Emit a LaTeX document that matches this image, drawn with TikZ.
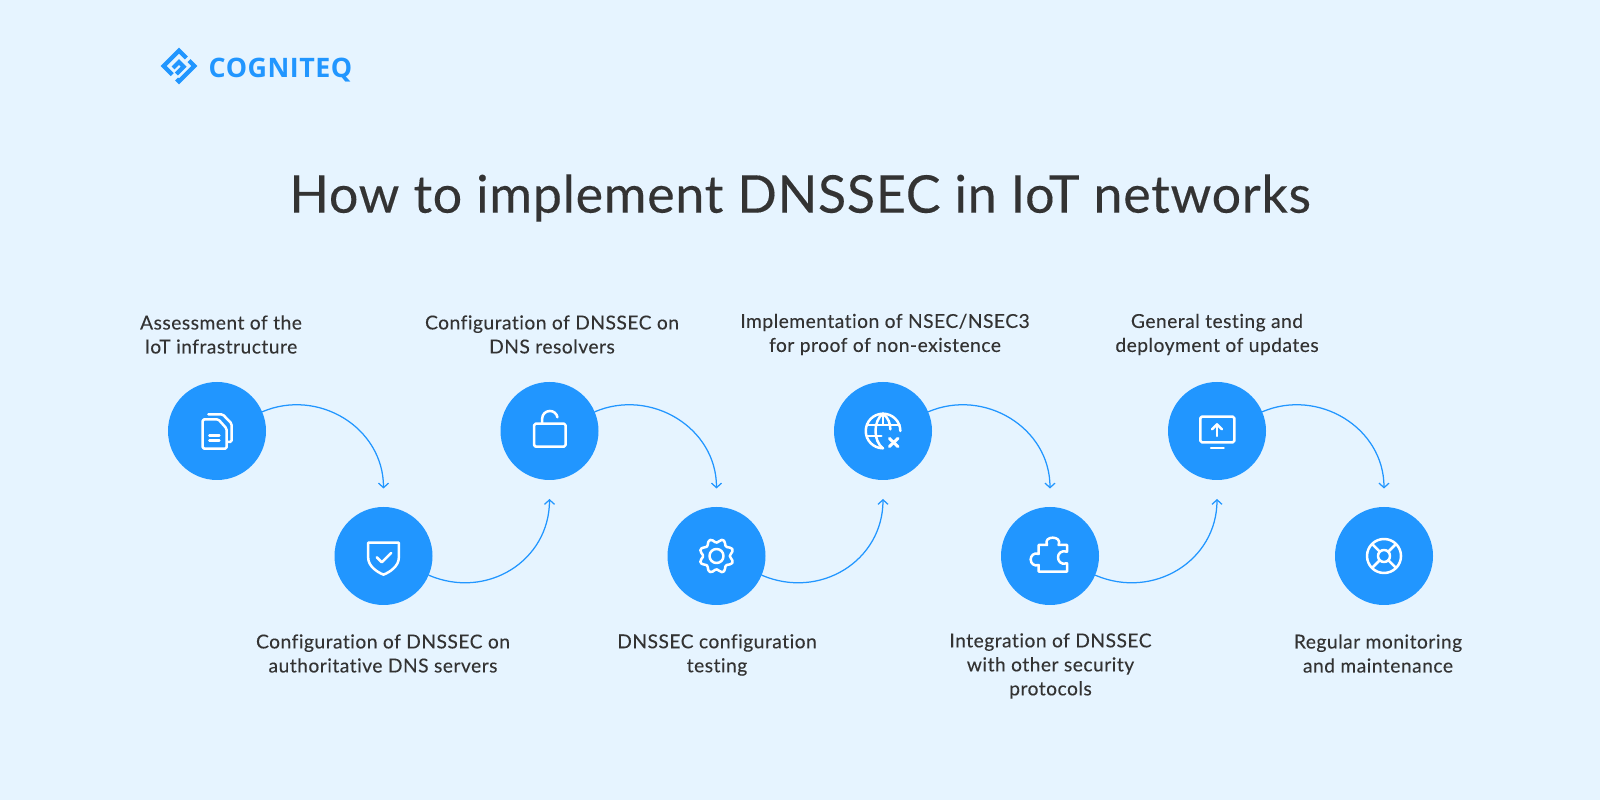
\documentclass[tikz,border=0pt]{standalone}
\usepackage{fontspec}
\setmainfont{Lato}
\newfontfamily\titlefont[LetterSpace=1.3,FakeBold=0.25]{Lato}
\newfontfamily\labelfont[LetterSpace=2.6,FakeBold=0.15,Ligatures=NoCommon]{Lato}
\newfontfamily\logofont[LetterSpace=2]{Open Sans}
\usetikzlibrary{arrows.meta,calc}
\definecolor{bgblue}{RGB}{230,244,255}
\definecolor{brand}{RGB}{33,150,255}
\definecolor{ink}{RGB}{51,51,51}
\tikzset{
  stepdot/.style={circle,fill=brand,draw=none,minimum size=98pt,inner sep=0pt,outer sep=0pt},
  flow/.style={draw=brand,line width=1.25pt,-{Straight Barb[length=4.5pt,width=10pt,line width=1.25pt]}},
  steptext/.style={align=center,inner sep=0pt,text=ink,font=\labelfont\fontsize{19.2}{24}\selectfont},
  iconline/.style={draw=white,line width=2.5pt,line cap=round,line join=round},
  iconbox/.style={x=0.3333pt,y=-0.3333pt},
  logostroke/.style={draw=brand,line width=4.2pt,line cap=butt,line join=miter}
}
\begin{document}
\begin{tikzpicture}[x=1pt,y=1pt]
\useasboundingbox (0,0) rectangle (1600,800);
\fill[bgblue] (0,0) rectangle (1600,800);

% logo
\coordinate (logo) at (179,734);
\begin{scope}[shift={(logo)},iconbox]
  \draw[logostroke] (22,-24) -- (0,-46) -- (-46,0) -- (-20,26);
  \draw[logostroke] (-18,6) -- (0,-12) -- (14,2) -- (-8,24);
  \draw[logostroke] (30,-16) -- (46,0) -- (0,46) -- (-7,39);
\end{scope}
\node[anchor=west,inner sep=0pt,text=brand,font=\logofont\bfseries\fontsize{26.8}{26}\selectfont] (brandname) at (208.5,729.5) {COGNITEQ};

% title
\node[inner sep=0pt,text=ink,font=\titlefont\fontsize{52}{60}\selectfont] (title) at (800,602) {How to implement DNSSEC in IoT networks};

% circles
\node[stepdot] (c1) at (217,369) {};
\node[stepdot] (c2) at (383.5,244) {};
\node[stepdot] (c3) at (549.5,369) {};
\node[stepdot] (c4) at (716.5,244) {};
\node[stepdot] (c5) at (883,369) {};
\node[stepdot] (c6) at (1050,244) {};
\node[stepdot] (c7) at (1217,369) {};
\node[stepdot] (c8) at (1384,244) {};

% labels
\node[steptext] (t1) at (221,465.5) {Assessment of the\\IoT infrastructure};
\node[steptext] (t2) at (383,146.5) {Configuration of DNSSEC on\\authoritative DNS servers};
\node[steptext] (t3) at (552,465.5) {Configuration of DNSSEC on\\DNS resolvers};
\node[steptext] (t4) at (717,145) {DNSSEC configuration\\testing};
\node[steptext] (t5) at (885,465.5) {Implementation of NSEC/NSEC3\\for proof of non-existence};
\node[steptext] (t6) at (1050.5,134) {Integration of DNSSEC\\with other security\\protocols};
\node[steptext] (t7) at (1217,465.5) {General testing and\\deployment of updates};
\node[steptext] (t8) at (1378,146.5) {Regular monitoring\\and maintenance};

% connectors
\foreach \a/\b in {c1/c2,c3/c4,c5/c6,c7/c8}
  \draw[flow] (\a.23) .. controls +(56,24) and ($(\b.north)+(0,79.5)$) .. ($(\b.north)+(0,18.5)$);
\foreach \a/\b in {c2/c3,c4/c5,c6/c7}
  \draw[flow] (\a.-23) .. controls +(58,-25) and ($(\b.south)+(0,-81)$) .. ($(\b.south)+(0,-19)$);

% icon 1: documents
\begin{scope}[shift={(c1.center)},iconbox]
  \draw[iconline,rounded corners=1.5pt] (-43,-35) -- (4,-35) -- (29,-7) -- (29,53) -- (-43,53) -- cycle;
  \draw[iconline,rounded corners=1.5pt] (-26,-50) -- (17,-50) -- (44,-22) -- (44,33) -- (31,33);
  \draw[iconline] (-23,13) -- (7,13);
  \draw[iconline] (-23,29) -- (7,29);
\end{scope}
% icon 2: shield
\begin{scope}[shift={(c2.center)},iconbox]
  \draw[iconline] (-46,-40) -- (46,-40) -- (46,5) .. controls (46,30) and (20,48) .. (0,56) .. controls (-20,48) and (-46,30) .. (-46,5) -- cycle;
  \draw[iconline] (-20,4) -- (-5,19) -- (23,-9);
\end{scope}
% icon 3: open lock
\begin{scope}[shift={(c3.center)},iconbox]
  \draw[iconline,rounded corners=1.5pt] (-46,-22) rectangle (48,47);
  \draw[iconline] (-22,-22) -- (-22,-37) arc[start angle=180,end angle=10,radius=7.7pt];
\end{scope}
% icon 4: gear
\begin{scope}[shift={(c4.center)},iconbox]
  \draw[iconline] plot[smooth cycle,domain=0:352,samples=45] ({(46-6*cos(8*\x))*cos(\x)},{(46-6*cos(8*\x))*sin(\x)});
  \draw[iconline] (0,0) circle[radius=7pt];
\end{scope}
% icon 5: globe
\begin{scope}[shift={(c5.center)},iconbox]
  \draw[iconline] (52,0) arc[start angle=0,end angle=270,radius=17.3pt];
  \draw[iconline] (0,-52) .. controls (-30,-30) and (-30,30) .. (0,52);
  \draw[iconline] (0,-52) .. controls (16,-40) and (22,-22) .. (22,-5);
  \draw[iconline] (0,-52) -- (0,-18);
  \draw[iconline] (-48,-18) -- (50,-18);
  \draw[iconline] (-48,15) -- (-5,15);
  \draw[iconline,line width=3pt] (19,22) -- (45,47);
  \draw[iconline,line width=3pt] (45,22) -- (19,47);
\end{scope}
% icon 6: puzzle
\begin{scope}[shift={(c6.center)},iconbox]
  \draw[iconline] (-34,47) -- (51,47) -- (51,22) .. controls (32,28) and (24,14) .. (24,4) .. controls (24,-8) and (34,-18) .. (51,-13) -- (51,-33) -- (26,-33) .. controls (32,-48) and (20,-55) .. (8,-55) .. controls (-4,-55) and (-15,-48) .. (-9,-33) -- (-34,-33) -- (-34,-6) .. controls (-48,-12) and (-58,0) .. (-58,10) .. controls (-58,22) and (-48,32) .. (-34,27) -- cycle;
\end{scope}
% icon 7: monitor
\begin{scope}[shift={(c7.center)},iconbox]
  \draw[iconline,rounded corners=1.5pt] (-50,-43) rectangle (52,34);
  \draw[iconline] (0,15) -- (0,-20);
  \draw[iconline] (-15,-5) -- (0,-20) -- (15,-5);
  \draw[iconline] (-18,51) -- (20,51);
\end{scope}
% icon 8: lifebuoy
\begin{scope}[shift={(c8.center)},iconbox]
  \draw[iconline] (0,0) circle[radius=17pt];
  \draw[iconline] (0,0) circle[radius=6pt];
  \foreach \q in {45,135,225,315}
    \draw[iconline] (\q:18) -- (\q:51);
\end{scope}
\end{tikzpicture}
\end{document}
